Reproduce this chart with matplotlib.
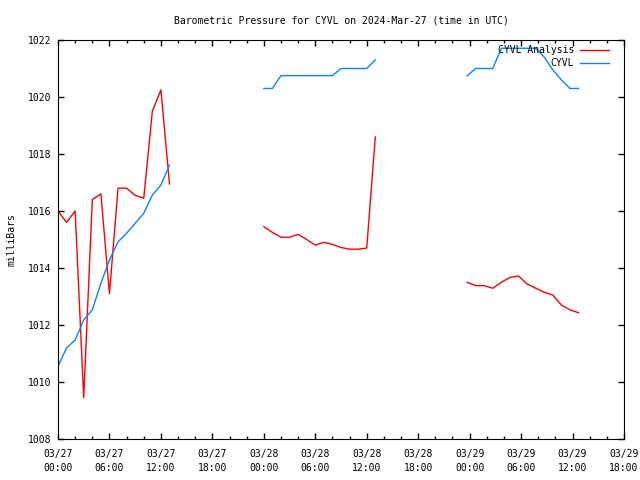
import numpy as np
import matplotlib
matplotlib.use('Agg')
from matplotlib import pyplot as plt

# hours since 2024-03-27 00:00 UTC
hrs1 = [0, 1, 2, 3, 4, 5, 6, 7, 8, 9, 10, 11, 12, 13]
ana1 = [1016.0, 1015.6, 1016.0, 1009.45, 1016.4, 1016.6, 1013.1, 1016.8, 1016.8, 1016.55, 1016.45, 1019.5, 1020.25, 1016.95]
obs1 = [1010.55, 1011.2, 1011.47, 1012.18, 1012.53, 1013.46, 1014.28, 1014.92, 1015.22, 1015.57, 1015.92, 1016.56, 1016.91, 1017.61]

hrs2 = [24, 25, 26, 27, 28, 29, 30, 31, 32, 33, 34, 35, 36, 37]
ana2 = [1015.45, 1015.25, 1015.08, 1015.08, 1015.18, 1015.0, 1014.8, 1014.9, 1014.83, 1014.72, 1014.66, 1014.66, 1014.7, 1018.6]
obs2 = [1020.3, 1020.3, 1020.75, 1020.75, 1020.75, 1020.75, 1020.75, 1020.75, 1020.75, 1021.0, 1021.0, 1021.0, 1021.0, 1021.3]

hrs3 = [47.7, 48.7, 49.7, 50.7, 51.7, 52.7, 53.7, 54.7, 55.7, 56.7, 57.7, 58.7, 59.7, 60.7]
ana3 = [1013.5, 1013.38, 1013.38, 1013.29, 1013.5, 1013.67, 1013.72, 1013.44, 1013.29, 1013.15, 1013.05, 1012.7, 1012.53, 1012.43]
obs3 = [1020.74, 1021.0, 1021.0, 1021.0, 1021.71, 1021.71, 1021.71, 1021.71, 1021.71, 1021.4, 1020.95, 1020.6, 1020.3, 1020.3]

tick_hours = list(range(0, 67, 6))
tick_labels = ['03/27\n00:00', '03/27\n06:00', '03/27\n12:00', '03/27\n18:00',
               '03/28\n00:00', '03/28\n06:00', '03/28\n12:00', '03/28\n18:00',
               '03/29\n00:00', '03/29\n06:00', '03/29\n12:00', '03/29\n18:00']

plt.rcParams['font.family'] = ['DejaVu Sans Mono']
plt.rcParams['font.size'] = 7

fig = plt.figure(figsize=(6.4, 4.8), dpi=100)
ax = fig.add_axes([58/640, 41/480, 566/640, 399/480])

red = '#ff0000'
blue = '#0a84ff'
for i, (h, a) in enumerate([(hrs1, ana1), (hrs2, ana2), (hrs3, ana3)]):
    ax.plot(h, a, color=red, lw=1, label='CYVL Analysis' if i == 0 else None)
for i, (h, o) in enumerate([(hrs1, obs1), (hrs2, obs2), (hrs3, obs3)]):
    ax.plot(h, o, color=blue, lw=1, label='CYVL' if i == 0 else None)

ax.set_xlim(0, 66)
ax.set_ylim(1008, 1022)
ax.set_xticks(tick_hours)
ax.set_xticklabels(tick_labels, linespacing=1.5)
ax.set_xticks(np.arange(0, 67, 2), minor=True)
ax.set_yticks(np.arange(1008, 1023, 2))
ax.tick_params(which='both', direction='in', top=True, right=True, length=4, width=1)
ax.tick_params(which='minor', length=2)
ax.tick_params(axis='x', pad=7)
ax.tick_params(axis='y', pad=5)
ax.set_ylabel('milliBars', labelpad=8)
ax.set_title('Barometric Pressure for CYVL on 2024-Mar-27 (time in UTC)', fontsize=7, pad=12)

leg = ax.legend(loc='upper right', bbox_to_anchor=(609/640, 435/480), bbox_transform=fig.transFigure,
                frameon=False, markerfirst=False, handlelength=3.0, borderaxespad=0, borderpad=0,
                labelspacing=0.35, handletextpad=0.6)
for t in leg.get_texts():
    t.set_ha('right')

plt.savefig('out.png', dpi=100)
